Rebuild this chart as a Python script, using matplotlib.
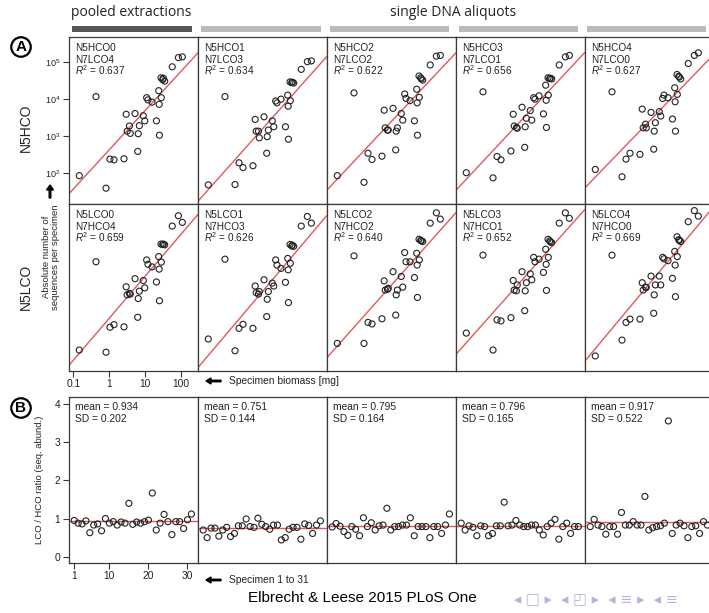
import numpy as np
import matplotlib
matplotlib.use('Agg')
import matplotlib.pyplot as plt
from matplotlib.patches import Rectangle, FancyArrow

plt.rcParams['font.family'] = ['Liberation Sans', 'DejaVu Sans']
plt.rcParams['mathtext.fontset'] = 'custom'
plt.rcParams['mathtext.rm'] = 'Liberation Sans'
plt.rcParams['mathtext.it'] = 'Liberation Sans:italic'
plt.rcParams['mathtext.bf'] = 'Liberation Sans:bold'

# ---------------- data ----------------
biomass_mg = [0.147, 0.43, 0.82, 1.06, 1.37, 2.6, 3.0, 3.2, 3.7, 3.9, 5.3, 6.3, 6.5,
              7.0, 9.0, 9.9, 11.2, 12.2, 15.8, 21, 24.3, 25.0, 25.5, 28.2, 28.7,
              31.4, 32.7, 35.7, 58, 86, 111]

# log10(absolute number of sequences per specimen), one list per panel
log10_N5HCO0 = [1.92, 4.07, 1.58, 2.37, 2.35, 2.38, 3.59, 3.13, 3.27, 3.07, 3.61, 2.58, 3.06,
                3.28, 3.55, 3.41, 4.04, 3.98, 3.92, 3.41, 4.23, 3.86, 3.02, 4.58, 4.04,
                4.53, 4.57, 4.49, 4.88, 5.13, 5.15]
log10_N5HCO1 = [1.67, 4.07, 1.68, 2.27, 2.14, 2.19, 3.45, 3.13, 3.13, 2.95, 3.52, 2.53, 2.98,
                3.16, 3.41, 3.25, 3.95, 3.90, 4.00, 3.25, 4.11, 3.81, 2.91, 4.47, 3.96,
                4.45, 4.46, 4.44, 4.81, 5.02, 5.04]
log10_N5HCO2 = [1.92, 4.17, 1.74, 2.53, 2.36, 2.45, 3.70, 3.22, 3.16, 3.16, 3.75, 2.62, 3.13,
                3.22, 3.61, 3.43, 4.14, 4.02, 3.96, 3.41, 4.27, 3.90, 3.02, 4.63, 4.05,
                4.58, 4.55, 4.52, 4.93, 5.17, 5.19]
log10_N5HCO3 = [2.00, 4.20, 1.86, 2.44, 2.35, 2.59, 3.59, 3.27, 3.23, 3.21, 3.78, 2.69, 3.25,
                3.48, 3.69, 3.43, 4.04, 4.00, 4.09, 3.60, 4.38, 3.97, 3.23, 4.58, 4.11,
                4.56, 4.57, 4.55, 4.93, 5.15, 5.19]
log10_N5HCO4 = [2.09, 4.20, 1.89, 2.37, 2.53, 2.50, 3.73, 3.22, 3.32, 3.22, 3.64, 2.64, 3.13,
                3.36, 3.66, 3.54, 4.02, 4.11, 4.04, 3.46, 4.31, 3.93, 3.13, 4.67, 4.13,
                4.62, 4.60, 4.55, 4.97, 5.19, 5.26]
log10_N5LCO0 = [1.72, 4.12, 1.66, 2.34, 2.41, 2.35, 3.44, 3.22, 3.26, 3.24, 3.66, 2.61, 3.12,
                3.32, 3.61, 3.41, 4.17, 4.05, 3.98, 3.57, 4.26, 3.92, 3.06, 4.60, 4.11,
                4.59, 4.60, 4.58, 5.09, 5.37, 5.19]
log10_N5LCO1 = [2.02, 4.19, 1.70, 2.31, 2.42, 2.31, 3.46, 3.28, 3.24, 3.31, 3.63, 2.63, 3.10,
                3.31, 3.54, 3.46, 4.17, 4.03, 3.94, 3.56, 4.21, 3.90, 3.01, 4.59, 4.08,
                4.55, 4.57, 4.54, 5.09, 5.35, 5.17]
log10_N5LCO2 = [1.90, 4.28, 1.90, 2.47, 2.43, 2.57, 3.60, 3.35, 3.37, 3.40, 3.85, 2.67, 3.22,
                3.35, 3.72, 3.43, 4.37, 4.12, 4.12, 3.69, 4.35, 4.03, 3.15, 4.73, 4.17,
                4.70, 4.69, 4.67, 5.17, 5.45, 5.28]
log10_N5LCO3 = [2.18, 4.30, 1.72, 2.54, 2.51, 2.60, 3.61, 3.35, 3.33, 3.49, 3.85, 2.79, 3.33,
                3.55, 3.79, 3.63, 4.24, 4.12, 4.19, 3.83, 4.46, 4.05, 3.34, 4.73, 4.24,
                4.69, 4.66, 4.64, 5.17, 5.45, 5.30]
log10_N5LCO4 = [1.56, 4.30, 1.99, 2.47, 2.56, 2.56, 3.55, 3.35, 3.43, 3.42, 3.73, 2.72, 3.22,
                3.49, 3.73, 3.49, 4.24, 4.20, 4.15, 3.67, 4.40, 4.03, 3.17, 4.80, 4.26,
                4.72, 4.70, 4.67, 5.21, 5.51, 5.36]

# regression lines (log10 y = icpt + slope * log10 x), as drawn in the figure
fit_icpt_top = [2.62, 2.45, 2.69, 2.69, 2.72]
fit_slope_top = [1.064, 1.094, 1.036, 1.041, 1.008]
fit_icpt_bot = [2.58, 2.53, 2.74, 2.83, 2.73]
fit_slope_bot = [1.139, 1.149, 1.094, 1.094, 1.168]

row_top_labels = ['N5HCO0\nN7LCO4', 'N5HCO1\nN7LCO3', 'N5HCO2\nN7LCO2', 'N5HCO3\nN7LCO1', 'N5HCO4\nN7LCO0']
row_bot_labels = ['N5LCO0\nN7HCO4', 'N5LCO1\nN7HCO3', 'N5LCO2\nN7HCO2', 'N5LCO3\nN7HCO1', 'N5LCO4\nN7HCO0']
r2_top = ['0.637', '0.634', '0.622', '0.656', '0.627']
r2_bot = ['0.659', '0.626', '0.640', '0.652', '0.669']

# LCO / HCO ratio (seq. abundance), specimens 1..31
ratio_0 = [0.95, 0.88, 0.86, 0.94, 0.63, 0.83, 0.86, 0.68, 1.00, 0.88, 0.92, 0.83, 0.91, 0.88, 1.40,
           0.85, 0.91, 0.88, 0.92, 0.96, 1.67, 0.70, 0.88, 1.11, 0.92, 0.58, 0.92, 0.92, 0.74, 0.97, 1.12]
ratio_1 = [0.70, 0.50, 0.75, 0.75, 0.54, 0.70, 0.77, 0.53, 0.61, 0.81, 0.81, 0.99, 0.79, 0.77, 1.01,
           0.85, 0.79, 0.72, 0.83, 0.83, 0.44, 0.50, 0.72, 0.77, 0.77, 0.46, 0.86, 0.82, 0.61, 0.83, 0.94]
ratio_2 = [0.78, 0.87, 0.80, 0.66, 0.56, 0.79, 0.72, 0.55, 1.02, 0.79, 0.89, 0.70, 0.81, 0.83, 1.27,
           0.70, 0.79, 0.79, 0.83, 0.83, 1.02, 0.55, 0.79, 0.79, 0.79, 0.50, 0.79, 0.79, 0.61, 0.83, 1.12]
ratio_3 = [0.88, 0.70, 0.81, 0.77, 0.55, 0.81, 0.79, 0.55, 0.61, 0.81, 0.81, 1.43, 0.81, 0.83, 0.95,
           0.83, 0.79, 0.79, 0.83, 0.83, 0.70, 0.57, 0.79, 0.88, 0.98, 0.46, 0.79, 0.88, 0.61, 0.79, 0.79]
ratio_4 = [0.79, 0.98, 0.83, 0.79, 0.59, 0.79, 0.79, 0.59, 1.16, 0.83, 0.83, 0.92, 0.83, 0.83, 1.58,
           0.70, 0.76, 0.79, 0.81, 0.88, 3.56, 0.61, 0.83, 0.88, 0.81, 0.50, 0.79, 0.81, 0.61, 0.92, 0.83]
ratio_mean = [0.934, 0.751, 0.795, 0.796, 0.917]
ratio_sd = [0.202, 0.144, 0.164, 0.165, 0.522]

x_ticks = [0.1, 1, 10, 100]
x_ticklabels = ['0.1', '1', '10', '100']
y_ticks = [1e2, 1e3, 1e4, 1e5]
y_ticklabels = [r'$10^{2}$', r'$10^{3}$', r'$10^{4}$', r'$10^{5}$']
b_xticks = [1, 10, 20, 30]
b_yticks = [0, 1, 2, 3, 4]

# ---------------- layout ----------------
W, H = 709, 613
fig = plt.figure(figsize=(W / 100, H / 100), dpi=100)


def rect(x0, y0, x1, y1):
    return [x0 / W, 1 - y1 / H, (x1 - x0) / W, (y1 - y0) / H]


def fx(x):
    return x / W


def fy(y):
    return 1 - y / H


EDGE = '#3a3a3a'
RED = '#e05a5a'
PT = '#222222'
TXT = '#222222'
FS = 7.2
col_left = [68.5 + c * 129 for c in range(5)]
PW = 129
row_y = [(37, 204), (204, 371)]
B_Y = (397.3, 563)

top_sets = [log10_N5HCO0, log10_N5HCO1, log10_N5HCO2, log10_N5HCO3, log10_N5HCO4]
bot_sets = [log10_N5LCO0, log10_N5LCO1, log10_N5LCO2, log10_N5LCO3, log10_N5LCO4]
ratios = [ratio_0, ratio_1, ratio_2, ratio_3, ratio_4]

xb = np.array(biomass_mg)
xlim_a = (10 ** -1.134, 10 ** 2.469)
ylim_a = (10 ** 1.15, 10 ** 5.69)


def style(ax):
    for s in ax.spines.values():
        s.set_color(EDGE)
        s.set_linewidth(0.9)
    ax.tick_params(direction='out', length=4, width=0.8, color=EDGE,
                   labelsize=7.4, labelcolor=TXT, pad=2)


for r, (sets, labels, r2s, icpts, slopes) in enumerate(
        [(top_sets, row_top_labels, r2_top, fit_icpt_top, fit_slope_top),
         (bot_sets, row_bot_labels, r2_bot, fit_icpt_bot, fit_slope_bot)]):
    y0, y1 = row_y[r]
    h = y1 - y0
    for c in range(5):
        ax = fig.add_axes(rect(col_left[c], y0, col_left[c] + PW, y1))
        ax.set_xscale('log')
        ax.set_yscale('log')
        ly = np.array(sets[c])
        lx = np.linspace(np.log10(xlim_a[0]), np.log10(xlim_a[1]), 2)
        ax.plot(10 ** lx, 10 ** (icpts[c] + slopes[c] * lx), color=RED, lw=1.0, zorder=2)
        ax.scatter(xb, 10 ** ly, s=19, facecolors='none', edgecolors=PT, linewidths=0.8, zorder=3)
        ax.set_xlim(*xlim_a)
        ax.set_ylim(*ylim_a)
        ax.minorticks_off()
        style(ax)
        ax.set_xticks([])
        ax.set_yticks([])
        if c == 0 and r == 0:
            ax.set_yticks(y_ticks)
            ax.set_yticklabels(y_ticklabels)
            ax.tick_params(axis='y', labelsize=6.5)
        if c == 0 and r == 1:
            ax.set_xticks(x_ticks)
            ax.set_xticklabels(x_ticklabels)
        l1, l2 = labels[c].split('\n')
        ax.text(6.5 / PW, 1 - 14 / h, l1, transform=ax.transAxes, fontsize=FS, color=TXT, va='baseline')
        ax.text(6.5 / PW, 1 - 26.0 / h, l2, transform=ax.transAxes, fontsize=FS, color=TXT, va='baseline')
        ax.text(6.5 / PW, 1 - 38.3 / h, r'$R^2$ = ' + r2s[c], transform=ax.transAxes, fontsize=FS,
                color=TXT, va='baseline')

hb = B_Y[1] - B_Y[0]
for c in range(5):
    ax = fig.add_axes(rect(col_left[c], B_Y[0], col_left[c] + PW, B_Y[1]))
    vals = ratios[c]
    idx = np.arange(1, len(vals) + 1)
    ax.axhline(ratio_mean[c], color=RED, lw=1.0, zorder=2)
    ax.scatter(idx, vals, s=19, facecolors='none', edgecolors=PT, linewidths=0.8, zorder=3)
    ax.set_xlim(-0.46, 32.56)
    ax.set_ylim(-0.165, 4.18)
    style(ax)
    ax.set_xticks([])
    ax.set_yticks([])
    if c == 0:
        ax.set_xticks(b_xticks)
        ax.set_yticks(b_yticks)
    ax.text(6.5 / PW, 1 - 12.7 / hb, 'mean = %.3f' % ratio_mean[c], transform=ax.transAxes,
            fontsize=7.4, color=TXT, va='baseline')
    ax.text(6.5 / PW, 1 - 24.4 / hb, 'SD = %.3f' % ratio_sd[c], transform=ax.transAxes,
            fontsize=7.4, color=TXT, va='baseline')

# ---------------- annotations ----------------
# header
fig.text(fx(131), fy(13), 'pooled extractions', fontsize=10, family='Open Sans', ha='center', va='center', color=TXT)
fig.text(fx(453), fy(13), 'single DNA aliquots', fontsize=10, family='Open Sans', ha='center', va='center', color=TXT)
bars = [(72, 192, '#555555'), (201, 321, '#bbbbbb'), (330, 449, '#bbbbbb'), (459, 578, '#bbbbbb'), (587, 706, '#bbbbbb')]
for x0, x1, colr in bars:
    fig.patches.append(Rectangle((fx(x0), fy(31.5)), (x1 - x0) / W, 6 / H, transform=fig.transFigure,
                                 facecolor=colr, edgecolor='none'))

# circled panel letters
for letter, yy in [('A', 47), ('B', 408)]:
    fig.text(fx(21), fy(yy), letter, fontsize=11, fontweight='bold', ha='center', va='center',
             bbox=dict(boxstyle='circle,pad=0.18', fc='white', ec='black', lw=1.6))

# row labels
fig.text(fx(26), fy(128), 'N5HCO', fontsize=10, rotation=90, ha='center', va='center', color=TXT)
fig.text(fx(26), fy(287), 'N5LCO', fontsize=10, rotation=90, ha='center', va='center', color=TXT)
fig.text(fx(51), fy(257), 'Absolute number of\nsequences per specimen', fontsize=6.8, rotation=90,
         ha='center', va='center', color=TXT, linespacing=1.1)
fig.patches.append(FancyArrow(fx(50), fy(198), 0, 13 / H, width=1.6 / W, head_width=7 / W,
                              head_length=5 / H, length_includes_head=True,
                              transform=fig.transFigure, color='black'))
fig.text(fx(40), fy(480), 'LCO / HCO ratio (seq. abund.)', fontsize=6.8, rotation=90, ha='center', va='center',
         color=TXT)

# axis notes with arrows
for yy, txt in [(381, 'Specimen biomass [mg]'), (580, 'Specimen 1 to 31')]:
    fig.patches.append(FancyArrow(fx(221), fy(yy), -15 / W, 0, width=1.5 / H, head_width=6 / H,
                                  head_length=5 / W, length_includes_head=True,
                                  transform=fig.transFigure, color='black'))
    fig.text(fx(229), fy(yy), txt, fontsize=7.4, ha='left', va='center', color=TXT)

# footer
fig.text(fx(362), fy(598), 'Elbrecht & Leese 2015 PLoS One', fontsize=11, ha='center', va='center', color='black')
fig.text(fx(514), fy(600), '\u25c2 \u25a1 \u25b8  \u25c2 \u25f0 \u25b8  \u25c2 \u2261 \u25b8  \u25c2 \u2261',
         fontsize=10.5, family='DejaVu Sans', ha='left', va='center', color='#b4b4dc')

fig.savefig('out.png', dpi=100)
